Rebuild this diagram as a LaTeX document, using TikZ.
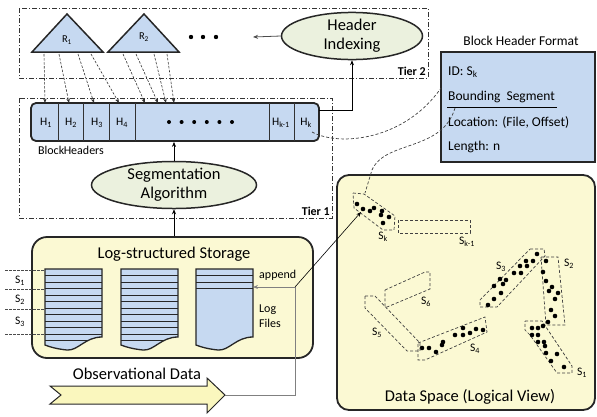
\documentclass[tikz,border=0pt]{standalone}
\usepackage{fontspec}
\setmainfont{Carlito}
\usetikzlibrary{shapes.geometric,arrows.meta,calc}
\definecolor{bfill}{HTML}{C6D9F1}
\definecolor{yfill}{HTML}{FBF9D3}
\definecolor{efill}{HTML}{EBF1DE}
\definecolor{afill}{HTML}{FAF7BE}
\definecolor{lgray}{HTML}{808080}
\newcommand\filepath[1]{(#1,269) -- (#1+57,269) -- (#1+57,337) .. controls (#1+40,337) and (#1+33,351) .. (#1+22,350) .. controls (#1+12,349) and (#1+5,347) .. (#1,345) -- cycle}
\begin{document}
\begin{tikzpicture}[x=1pt,y=-1pt,
 tier/.style={draw=black!80, line width=0.6pt, dash pattern=on 5pt off 2pt on 1pt off 2pt},
 tierlbl/.style={font={\fontsize{12}{14}\selectfont\bfseries}, inner sep=1pt},
 thk/.style={line width=1.5pt, draw=black!85},
 ell/.style={ellipse, draw=black!85, line width=1.5pt, fill=efill, align=center, font={\fontsize{16.5}{19}\selectfont}, inner sep=0pt},
 big/.style={font={\fontsize{16.5}{19}\selectfont}, inner sep=0pt},
 mid/.style={font={\fontsize{13.5}{16}\selectfont}, inner sep=0pt},
 sm/.style={font={\fontsize{11.5}{14}\selectfont}, inner sep=0pt},
 seg/.style={draw=black!75, line width=0.7pt, dash pattern=on 3pt off 2pt},
 arr/.style={-{Stealth[length=5pt,width=4pt]}, line width=0.6pt},
 garr/.style={-{Stealth[length=5pt,width=4pt]}, line width=1pt, draw=lgray},
 darr/.style={-{Stealth[length=4.5pt,width=3.5pt]}, line width=0.6pt, dash pattern=on 2.5pt off 1.5pt, draw=black!80},
]
\useasboundingbox (0,0) rectangle (597,416);

% tier boxes
\draw[tier] (19,8) rectangle (428,78);
\node[tierlbl, anchor=south east] (t2) at (427,77) {Tier 2};
\draw[tier] (19,98) rectangle (332,218);
\node[tierlbl, anchor=south east] (t1) at (331,217) {Tier 1};

% triangles
\draw[thk, fill=bfill] (32,52) -- (67,14) -- (103,52) -- cycle;
\draw[thk, fill=bfill] (108,52) -- (144,14) -- (179,52) -- cycle;
\node[font={\fontsize{10.5}{12}\selectfont}] (r1) at (67,40) {R\textsubscript{1}};
\node[font={\fontsize{10.5}{12}\selectfont}] (r2) at (144,37) {R\textsubscript{2}};
\foreach \xx in {191,203,216} \fill (\xx,37) circle (2.2);
\coordinate (rdots) at (253,37);

% header indexing
\node[ell, minimum width=141pt, minimum height=47pt] (hi) at (352,36) {Header\\Indexing};
\draw[-{Stealth[length=5pt,width=4pt]}, line width=0.8pt, draw=black!70] (hi.west) -- (rdots);

% block headers row
\node[draw=black!85, line width=1.8pt, fill=bfill, rounded corners=5pt, minimum width=288pt, minimum height=38pt, inner sep=0pt] (blk) at (175,122) {};
\foreach \xx in {58,83,109,135,269,294} \draw[line width=0.6pt, black!80] (\xx,103) -- (\xx,141);
\node[sm] (h1) at (46,123) {H\textsubscript{1}};
\node[sm] (h2) at (71,123) {H\textsubscript{2}};
\node[sm] (h3) at (97,123) {H\textsubscript{3}};
\node[sm] (h4) at (122,123) {H\textsubscript{4}};
\node[sm] (hk1) at (281,123) {H\textsubscript{k-1}};
\node[sm] (hk) at (306,123) {H\textsubscript{k}};
\foreach \i in {0,...,5} \fill (169+12.6*\i,122) circle (2);
\node[font={\fontsize{12}{14}\selectfont}, inner sep=0pt] (bhl) at (71,150) {Block\kern-0.5pt Headers};

% dashed arrows from triangles
\foreach \i/\a/\b in {1/44/45,2/59/69,3/78/94,4/91/119,5/123/145,6/136/158,7/154/166,8/167/174} {
  \coordinate (ts\i) at (\a,54);
  \coordinate (te\i) at (\b,103);
  \draw[darr] (ts\i) -- (te\i);
}

% arrow block -> header indexing
\coordinate (bk1) at (319,110);
\draw[arr] (bk1) -| (hi.south);

% segmentation
\node[ell, minimum width=165pt, minimum height=45pt] (sa) at (174,185) {Segmentation\\Algorithm};
\draw[arr] (sa.north) -- (sa.north |- blk.south);

% storage
\node[draw=black!85, line width=1.8pt, fill=yfill, rounded corners=15pt, minimum width=281pt, minimum height=121pt, inner sep=0pt] (st) at (172.5,297.5) {};
\draw[arr] (sa.south |- st.north) -- (sa.south);
\node[big] (stt) at (174,254) {Log-structured Storage};

% log files
\foreach \xx/\n in {45/10,121/10,196/2} {
  \fill[bfill] \filepath{\xx};
  \begin{scope}
    \clip \filepath{\xx};
    \foreach \k in {0,...,\n} \draw[line width=0.6pt, black!85] (\xx,275.5+6.5*\k) -- (\xx+57,275.5+6.5*\k);
  \end{scope}
  \draw[line width=1.3pt, black!85] \filepath{\xx};
}
\node[sm, font={\fontsize{12}{14}\selectfont}, anchor=west] (app) at (259,275) {append};
\node[sm, font={\fontsize{12}{14}\selectfont}, align=left, anchor=west] (lf) at (259,316) {Log\\[1pt]Files};

% S marks left
\foreach \yy in {270,289,309,334} \draw[line width=0.6pt, black!70, dash pattern=on 2.5pt off 1.5pt] (5,\yy) -- (45,\yy);
\node[sm] (s1l) at (20,281) {S\textsubscript{1}};
\node[sm] (s2l) at (20,300) {S\textsubscript{2}};
\node[sm] (s3l) at (20,322) {S\textsubscript{3}};

% observational data arrow
\draw[line width=1pt, draw=black!85, fill=afill] (50,386) -- (207,386) -- (207,378) -- (225,395) -- (207,413) -- (207,404) -- (50,404) -- (61,395) -- cycle;
\coordinate (obstip) at (225,395);
\node[big] (obs) at (137,374) {Observational Data};
\coordinate (appc) at (295,287);
\coordinate (apptip) at (253,287);
\draw[garr] (obstip) -| (appc) -- (apptip);

% block header format
\node[draw=black!85, line width=1.8pt, fill=bfill, minimum width=154pt, minimum height=110pt, inner sep=0pt] (bhf) at (518,107) {};
\node[mid] (bhft) at (521,41) {Block Header Format};
\node[mid, anchor=west] (idl) at (448,72) {ID: S\textsubscript{k}};
\node[mid, anchor=west] (bsl) at (448,97) {Bounding\ \ Segment};
\coordinate (ul1) at (447,107);
\coordinate (ul2) at (557,107);
\draw[line width=0.7pt] (ul1) -- (ul2);
\node[mid, anchor=west] (locl) at (448,122) {Location: (File, Offset)};
\node[mid, anchor=west] (lenl) at (448,147) {Length: n};

% data space
\node[draw=black!85, line width=1.8pt, fill=yfill, rounded corners=12pt, minimum width=258pt, minimum height=235pt, inner sep=0pt] (ds) at (466,292.5) {};
\node[big] (dsl) at (470,397) {Data Space (Logical View)};

% segments
\draw[seg] (353,193) -- (364,194) -- (395,216) -- (394,230) -- (383,230) -- (354,208) -- cycle;
\foreach \p in {(357,204),(363,209),(370,211),(374,208),(382,211),(381,215),(389,217),(383,223)} \fill \p circle (2.3);
\node[sm] (skl) at (383,237) {S\textsubscript{k}};
\draw[seg] (398,220) rectangle (470,233);
\node[sm] (sk1l) at (467,242) {S\textsubscript{k-1}};

\draw[seg] (530,249) -- (544,249) -- (545,256) -- (497,307) -- (480,307) -- (480,300) -- cycle;
\foreach \p in {(537,254),(533,261),(526,261),(527,266),(520,266),(521,273),(514,273),(506,280),(500,279),(503,284),(494,286),(501,293),(494,299),(488,305)} \fill \p circle (2.3);
\node[sm] (s3) at (501,267) {S\textsubscript{3}};

\draw[seg] (541,257) -- (558,257) -- (565,325) -- (546,325) -- cycle;
\foreach \p in {(546,261),(543,272),(546,281),(552,287),(549,291),(558,293),(555,299),(551,310),(555,316),(548,322)} \fill \p circle (2.3);
\node[sm] (s2) at (569,264) {S\textsubscript{2}};

\draw[seg] (525,321) -- (542,321) -- (572,366) -- (572,373) -- (557,373) -- (530,335) -- (525,330) -- cycle;
\foreach \p in {(532,328),(538,328),(543,326),(532,335),(538,335),(538,342),(544,342),(545,346),(546,353),(557,354),(551,361),(564,367)} \fill \p circle (2.3);
\node[sm] (s1) at (582,373) {S\textsubscript{1}};

\draw[seg] (418,343) -- (485,317) -- (487,332) -- (425,360) -- (418,360) -- cycle;
\foreach \p in {(422,348),(429,348),(436,352),(442,345),(443,342),(455,335),(463,335),(463,328),(470,333),(476,329),(483,330)} \fill \p circle (2.3);
\node[sm] (s4) at (475,349) {S\textsubscript{4}};

\draw[seg] (365,296) -- (375,296) -- (420,343) -- (420,351) -- (407,351) -- (365,308) -- cycle;
\node[sm] (s5) at (377,333) {S\textsubscript{5}};
\draw[seg] (385,290) -- (425,272) -- (430,272) -- (430,289) -- (387,307) -- (385,307) -- cycle;
\node[sm] (s6) at (426,302) {S\textsubscript{6}};

% connectors to data space
\coordinate (skp) at (361,212);
\draw[arr] (appc) -- (skp);
\coordinate (hkc) at (312,132);
\coordinate (bhfw) at (441,88);
\draw[seg] (hkc) .. controls (340,147) and (405,140) .. (bhfw);
\coordinate (bsu) at (455,108);
\coordinate (sktop) at (365,193);
\draw[seg] (bsu) .. controls (442,152) and (385,140) .. (372,170) -- (sktop);
\end{tikzpicture}
\end{document}
